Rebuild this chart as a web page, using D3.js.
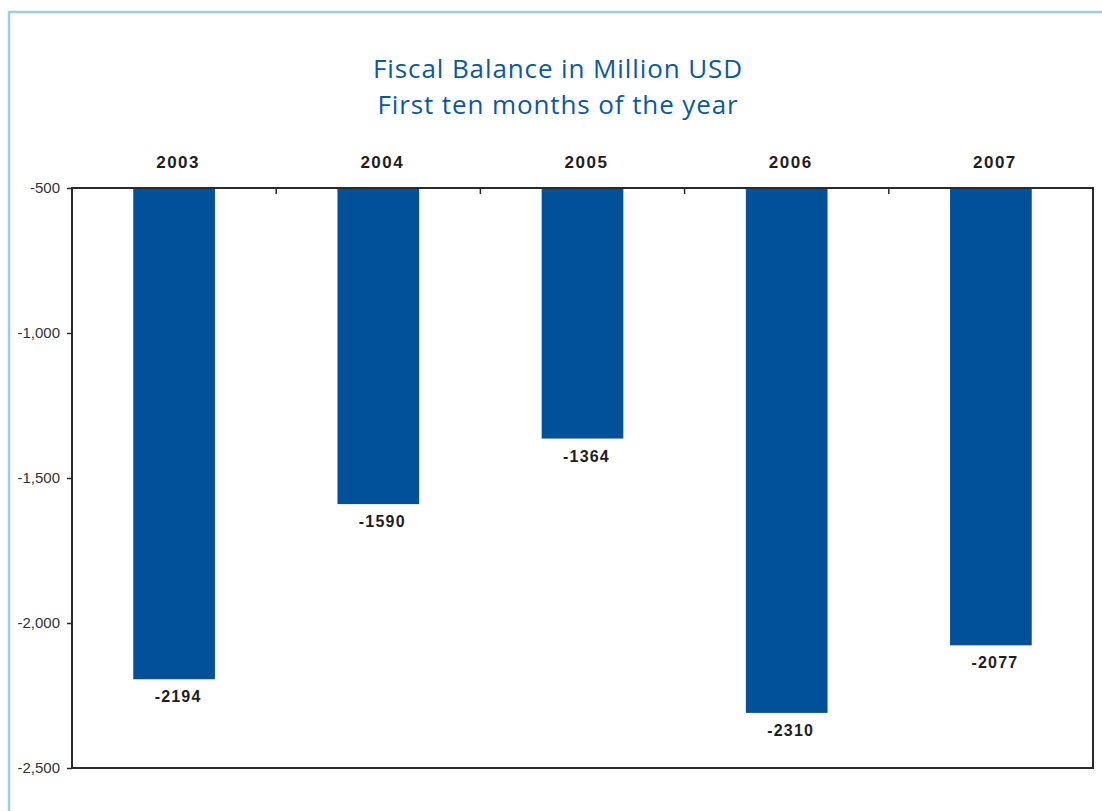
<!DOCTYPE html>
<html>
<head>
<meta charset="utf-8">
<script src="https://cdn.jsdelivr.net/npm/d3@7"></script>
<style>
  html, body { margin: 0; padding: 0; background: #fff; }
  svg { display: block; }
</style>
</head>
<body>
<svg id="chart" width="1102" height="811"></svg>
<script>
// Fiscal balance, first ten months of each year (million USD)
const years = ["2003", "2004", "2005", "2006", "2007"];
const balances = [-2194, -1590, -1364, -2310, -2077];
const yTicks = [-500, -1000, -1500, -2000, -2500];
const titleLines = ["Fiscal Balance in Million USD", "First ten months of the year"];

const svg = d3.select("#chart");
const W = 1102, H = 811;
const plot = { left: 72, top: 188, right: 1093, bottom: 768 };

// plain hyphen minus for tick labels
const locale = d3.formatLocale({ decimal: ".", thousands: ",", grouping: [3], currency: ["$", ""], minus: "-" });

// light blue frame around the panel
svg.append("path")
  .attr("d", `M9,${H + 5} L9,12 L${W + 5},12`)
  .attr("fill", "none")
  .attr("stroke", "#9ecaee")
  .attr("stroke-width", 2.5);

// two-line title
svg.append("g").selectAll("text")
  .data(titleLines)
  .join("text")
  .attr("x", 558)
  .attr("y", (d, i) => 78 + i * 36)
  .attr("text-anchor", "middle")
  .attr("font-family", "'Open Sans', 'Noto Sans', sans-serif")
  .attr("font-size", 26)
  .attr("letter-spacing", 0.9)
  .attr("fill", "#0a59a0")
  .text(d => d);

const x = d3.scaleBand()
  .domain(years)
  .range([plot.left, plot.right])
  .paddingInner(0.6)
  .paddingOuter(0.3);

const y = d3.scaleLinear()
  .domain([-500, -2500])
  .range([plot.top, plot.bottom]);

// bars hang down from the -500 baseline
svg.append("g").selectAll("rect")
  .data(years)
  .join("rect")
  .attr("x", d => x(d))
  .attr("y", y(-500))
  .attr("width", x.bandwidth())
  .attr("height", (d, i) => y(balances[i]) - y(-500))
  .attr("fill", "#005199");

// value labels under each bar
svg.append("g").selectAll("text")
  .data(years)
  .join("text")
  .attr("x", d => x(d) + x.bandwidth() / 2 + 4)
  .attr("y", (d, i) => y(balances[i]) + 23)
  .attr("text-anchor", "middle")
  .attr("font-family", "'Liberation Sans', Arial, sans-serif")
  .attr("font-weight", "bold")
  .attr("font-size", 16)
  .attr("letter-spacing", 1.2)
  .attr("fill", "#1e1e1e")
  .text((d, i) => balances[i]);

// frame of the plot area
const axisColor = "#2a2a2a";
svg.append("rect")
  .attr("x", plot.left)
  .attr("y", plot.top)
  .attr("width", plot.right - plot.left)
  .attr("height", plot.bottom - plot.top)
  .attr("fill", "none")
  .attr("stroke", axisColor)
  .attr("stroke-width", 2);

// left value axis
const yAxis = d3.axisLeft(y)
  .tickValues(yTicks)
  .tickSize(5)
  .tickPadding(7)
  .tickFormat(locale.format(","));
const gy = svg.append("g")
  .attr("transform", `translate(${plot.left},0)`)
  .call(yAxis);
gy.select(".domain").remove();
gy.selectAll(".tick line").attr("stroke", axisColor).attr("stroke-width", 1.5);
gy.selectAll(".tick text")
  .attr("font-family", "'Liberation Sans', Arial, sans-serif")
  .attr("font-size", 15)
  .attr("fill", "#333");

// category axis along the top, ticks between categories
const step = x.step();
const dividers = years.slice(1).map(d => x(d) - (step - x.bandwidth()) / 2);
svg.append("g").selectAll("line")
  .data(dividers)
  .join("line")
  .attr("x1", d => d).attr("x2", d => d)
  .attr("y1", plot.top).attr("y2", plot.top + 6)
  .attr("stroke", axisColor)
  .attr("stroke-width", 1.5);

svg.append("g").selectAll("text")
  .data(years)
  .join("text")
  .attr("x", d => x(d) + x.bandwidth() / 2 + 4)
  .attr("y", 168)
  .attr("text-anchor", "middle")
  .attr("font-family", "'Liberation Sans', Arial, sans-serif")
  .attr("font-weight", "bold")
  .attr("font-size", 17)
  .attr("letter-spacing", 1.5)
  .attr("fill", "#1e1e1e")
  .text(d => d);
</script>
</body>
</html>
